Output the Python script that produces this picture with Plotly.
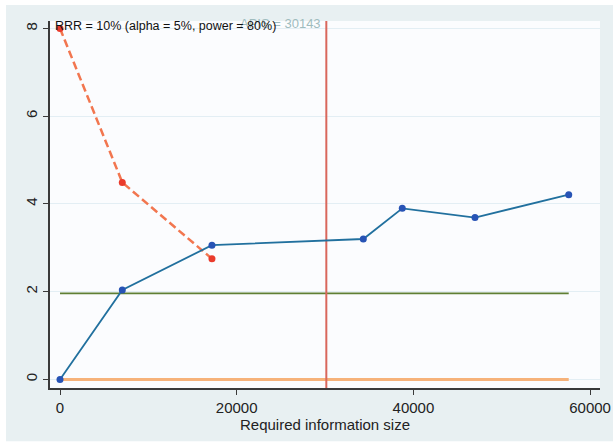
import plotly.graph_objects as go

# Cumulative Z-curve against accrued information size
z_x = [0, 7050, 17200, 34330, 38740, 46970, 57580]
z_y = [0, 2.04, 3.06, 3.20, 3.90, 3.69, 4.21]

# Monitoring boundary
bound_x = [0, 7050, 17200]
bound_y = [8.0, 4.49, 2.75]

apis = 30143
z_crit = 1.96
line_end = 57580

x_ticks = [0, 20000, 40000, 60000]
y_ticks = [0, 2, 4, 6, 8]

fig = go.Figure()

# horizontal reference lines
fig.add_trace(go.Scatter(x=[0, line_end], y=[0, 0], mode="lines",
                         line=dict(color="#f6b27a", width=3), hoverinfo="skip"))
fig.add_trace(go.Scatter(x=[0, line_end], y=[z_crit, z_crit], mode="lines",
                         line=dict(color="#5f7f34", width=1.6), hoverinfo="skip"))

# information size line
fig.add_trace(go.Scatter(x=[apis, apis], y=[-0.2, 8.17], mode="lines",
                         line=dict(color="#d9675c", width=2), hoverinfo="skip"))

fig.add_trace(go.Scatter(x=bound_x, y=bound_y, mode="lines+markers",
                         line=dict(color="#f2764f", width=2.5, dash="8px,4px"),
                         marker=dict(color="#ea3b2c", size=7)))
fig.add_trace(go.Scatter(x=z_x, y=z_y, mode="lines+markers",
                         line=dict(color="#21709e", width=1.8),
                         marker=dict(color="#2753b5", size=7)))

fig.add_annotation(x=apis, y=8.12, xref="x", yref="y", text="APIS = 30143",
                   showarrow=False, xanchor="right", yanchor="middle", xshift=-3,
                   font=dict(family="Liberation Sans, Arial", size=13, color="#9fbcbe"))
fig.add_annotation(x=0, y=8.05, xref="x", yref="y",
                   text="RRR = 10% (alpha = 5%, power = 80%)",
                   showarrow=False, xanchor="left", yanchor="middle", xshift=-7,
                   font=dict(family="Liberation Sans, Arial", size=12.5, color="#111111"))

# thin white border around the outer panel
border = dict(type="rect", xref="paper", yref="paper",
              fillcolor="#ffffff", line=dict(width=0), layer="below")
fig.add_shape(x0=-0.1, x1=1.1, y0=1.0436, y1=1.1, **border)
fig.add_shape(x0=-0.1, x1=-0.08, y0=-0.2, y1=1.1, **border)
fig.add_shape(x0=-0.1, x1=1.1, y0=-0.2, y1=-0.145, **border)

fig.update_layout(
    width=613, height=446,
    margin=dict(l=50, r=13, t=21, b=58),
    paper_bgcolor="#e8f0f2",
    plot_bgcolor="#fbfcfe",
    showlegend=False,
    font=dict(family="Liberation Sans, Arial", color="#222222"),
)
fig.update_xaxes(range=[-1132, 61120], tickvals=x_ticks,
                 ticktext=[str(v) for v in x_ticks], automargin=False,
                 showgrid=False, zeroline=False,
                 showline=True, linecolor="#3a3a3a", linewidth=1.5,
                 ticks="outside", ticklen=5, tickcolor="#3a3a3a",
                 tickfont=dict(size=15),
                 title=dict(text="Required information size", font=dict(size=15), standoff=2))
fig.update_yaxes(range=[-0.196, 8.17], tickvals=y_ticks,
                 ticktext=[str(v) for v in y_ticks], tickangle=-90, automargin=False,
                 showgrid=True, gridcolor="#e3eef4", gridwidth=1, zeroline=False,
                 showline=True, linecolor="#3a3a3a", linewidth=1.5,
                 ticks="outside", ticklen=5, tickcolor="#3a3a3a",
                 tickfont=dict(size=15))

fig.write_html("out.html")
